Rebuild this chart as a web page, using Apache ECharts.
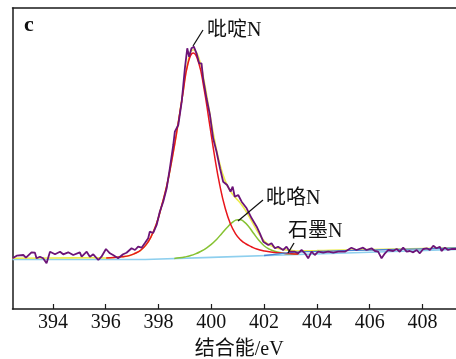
<!DOCTYPE html>
<html><head><meta charset="utf-8">
<script src="https://cdn.jsdelivr.net/npm/echarts@6/dist/echarts.min.js"></script>
<style>html,body{margin:0;padding:0;background:#fff}#c{width:456px;height:359px}</style>
</head><body><div id="c"></div>
<script>
// ---- data (binding energy eV, intensity a.u.) ----
const tickValues = [394, 396, 398, 400, 402, 404, 406, 408];
const xRange = [392.47, 409.27];
const yRange = [0, 301];

const rawSpectrum = [[392.47,50.7],[392.63,53.3],[392.88,54],[392.98,51.3],[393.19,56.7],[393.32,56.3],[393.38,50.7],[393.51,52.3],[393.63,50.7],[393.76,45.7],[393.89,57.3],[394.08,54.7],[394.27,57.3],[394.39,54.7],[394.58,56.7],[394.77,54],[395.02,56.7],[395.09,52.3],[395.28,57.3],[395.40,52.3],[395.53,54.7],[395.72,49],[395.84,52.3],[396.01,60],[396.16,55.7],[396.28,54],[396.47,50.7],[396.66,54.7],[396.79,56.3],[396.98,60.7],[397.11,59],[397.23,62.3],[397.36,61.3],[397.48,65.7],[397.61,70.7],[397.67,77.3],[397.80,76],[397.93,84],[398.05,97.3],[398.18,107.3],[398.31,120.7],[398.43,140.7],[398.56,164],[398.62,177.3],[398.75,184],[398.88,207.3],[398.94,224],[399.00,240.7],[399.09,260.7],[399.16,252.3],[399.25,260.7],[399.34,262.3],[399.44,255.7],[399.54,245.7],[399.63,245.7],[399.69,230.7],[399.82,210.7],[399.95,194],[400.07,170.7],[400.20,157.3],[400.33,140.7],[400.45,127.3],[400.60,124],[400.73,117.3],[400.81,122.3],[400.89,112.3],[401.02,114],[401.15,107.3],[401.34,100.7],[401.53,90.7],[401.72,82.3],[401.84,75.7],[401.97,67.3],[402.16,64],[402.28,65.7],[402.41,60.7],[402.53,62.3],[402.72,59],[402.85,62.3],[402.98,57.3],[403.17,57.3],[403.29,55.7],[403.42,59],[403.55,55.7],[403.67,50.7],[403.80,57.3],[403.92,54],[404.05,57.3],[404.24,56.3],[404.43,57.3],[404.62,56.3],[404.81,57.3],[405.06,57.3],[405.31,61.3],[405.50,59],[405.75,61.3],[405.88,59],[406.07,60.7],[406.20,58],[406.32,57.3],[406.45,50.7],[406.58,55.7],[406.70,59],[406.89,58],[407.02,60],[407.14,57.3],[407.27,61.3],[407.40,57.3],[407.52,58],[407.65,56.7],[407.78,59],[407.90,55.7],[408.03,60],[408.16,60.7],[408.28,59],[408.41,63.3],[408.53,60.7],[408.66,62.3],[408.72,58],[408.85,61.3],[408.97,59],[409.10,60],[409.27,60]];

const fitEnvelope = [[392.47,50.8],[394.0,51.0],[395.5,51.2],[396.02,51.0],[396.32,51.5],[396.62,52.2],[396.92,53.6],[397.12,55.7],[397.32,58.7],[397.52,63.9],[397.72,72.3],[397.92,84.9],[398.12,103.3],[398.32,124],[398.52,150.9],[398.72,181.8],[398.92,215.6],[399.12,247.5],[399.32,259.2],[399.52,251.8],[399.72,229.1],[399.92,199.1],[400.12,169.5],[400.32,145.4],[400.52,128.6],[400.72,118],[400.92,111.2],[401.12,105.3],[401.32,97.5],[401.52,88.4],[401.72,78.9],[402.02,67.6],[402.32,62.5],[402.72,59.5],[403.02,58.6],[403.3,58],[403.6,58.2],[404.0,58.4],[404.5,58.7],[405.5,59.1],[406.5,59.7],[407.5,60.2],[408.5,60.8],[409.27,61.2]];

const pyridinicN = [[396.02,51],[396.32,51.5],[396.62,52.2],[396.92,53.6],[397.12,55.7],[397.32,58.7],[397.52,63.9],[397.72,72.3],[397.92,84.9],[398.12,103.3],[398.32,124],[398.52,150.9],[398.72,181.5],[398.92,214.7],[399.12,245.7],[399.32,256],[399.52,246.5],[399.72,221.1],[399.92,187.7],[400.12,153.7],[400.32,124.2],[400.52,101.5],[400.72,85.5],[400.92,75.2],[401.12,68.9],[401.32,65],[401.52,62.3],[401.72,60],[402.02,58],[402.32,56.8],[402.72,55.8],[403.02,55.3],[403.3,55]];

const pyrrolicN = [[398.6,50.6],[398.8,51.2],[399.0,52.1],[399.2,53.3],[399.4,55.1],[399.6,57.6],[399.8,60.7],[400.0,64.6],[400.2,69.6],[400.4,75.6],[400.6,81.6],[400.8,86.6],[401.0,89.2],[401.1,89.2],[401.2,88.2],[401.4,83.1],[401.6,75.7],[401.8,68.8],[402.0,63.3],[402.2,59.8],[402.4,57.8],[402.6,56.4],[402.8,55.6],[403.0,55.2],[403.3,54.9]];

const graphiticN = [[402.0,53.5],[402.4,54.7],[402.8,55.9],[403.2,56.9],[403.6,57.3],[404.0,57.6],[405.0,58.3],[406.0,58.9],[407.0,59.6],[408.0,60.2],[409.27,61.0]];

const backgroundLine = [[392.47,49.5],[397.5,49.5],[400,51.6],[403,54.2],[406,56.7],[409.27,59.5]];

const labels = { panel: 'c', pyridinic: '吡啶N', pyrrolic: '吡咯N', graphitic: '石墨N', xName: '结合能/eV' };

// ---- chart ----
const FONT = '"Liberation Serif", "Times New Roman", "Noto Sans CJK SC", serif';
const AX = '#1a1a1a';
const chart = echarts.init(document.getElementById('c'), null, { renderer: 'canvas' });

function lineSeries(name, data, color, width, z, smooth) {
  return { name, type: 'line', data, showSymbol: false, smooth: smooth, z,
    lineStyle: { color, width }, emphasis: { disabled: true }, animation: false };
}

chart.setOption({
  animation: false,
  backgroundColor: '#fff',
  grid: { left: 12.5, right: 0, top: 8, bottom: 50, containLabel: false, outerBoundsMode: 'none' },
  xAxis: [{
    type: 'value', min: xRange[0], max: xRange[1], position: 'bottom',
    axisLine: { show: true, onZero: false, lineStyle: { color: AX, width: 1.5 } },
    axisTick: { show: true, inside: true, length: 5, customValues: tickValues, lineStyle: { color: AX, width: 1.2 } },
    axisLabel: { customValues: tickValues, margin: 4, fontFamily: FONT, fontSize: 20, color: '#111' },
    splitLine: { show: false },
    name: labels.xName, nameLocation: 'middle', nameGap: 31,
    nameTextStyle: { fontFamily: FONT, fontSize: 20, color: '#111', padding: [0, 0, 0, 10] }
  }, {
    type: 'value', min: xRange[0], max: xRange[1], position: 'top',
    axisLine: { show: true, onZero: false, lineStyle: { color: AX, width: 1.5 } },
    axisTick: { show: false }, axisLabel: { show: false }, splitLine: { show: false }
  }],
  yAxis: {
    type: 'value', min: yRange[0], max: yRange[1],
    axisLine: { show: true, onZero: false, lineStyle: { color: AX, width: 1.5 } },
    axisTick: { show: false }, axisLabel: { show: false }, splitLine: { show: false }
  },
  series: [
    lineSeries('background', backgroundLine, '#8ecfee', 1.6, 1, false),
    lineSeries('envelope', fitEnvelope, '#ecec4a', 1.6, 2, true),
    lineSeries('pyrrolic', pyrrolicN, '#86c232', 1.5, 3, true),
    lineSeries('pyridinic', pyridinicN, '#e8161c', 1.5, 4, true),
    lineSeries('graphitic', graphiticN, '#4a84d4', 1.3, 5, true),
    lineSeries('raw', rawSpectrum, '#6c1478', 1.8, 6, false)
  ],
  graphic: [
    { type: 'text', z: 100, left: 24, top: 14, style: { text: labels.panel, font: 'bold 22px ' + FONT, fill: '#111' } },
    { type: 'text', z: 100, left: 207, top: 21, style: { text: labels.pyridinic, font: '20px ' + FONT, fill: '#111' } },
    { type: 'line', z: 100, shape: { x1: 203, y1: 30, x2: 193, y2: 46 }, style: { stroke: '#111', lineWidth: 1.2 } },
    { type: 'text', z: 100, left: 266, top: 189, style: { text: labels.pyrrolic, font: '20px ' + FONT, fill: '#111' } },
    { type: 'line', z: 100, shape: { x1: 263, y1: 200, x2: 238, y2: 221 }, style: { stroke: '#111', lineWidth: 1.2 } },
    { type: 'text', z: 100, left: 288, top: 222, style: { text: labels.graphitic, font: '20px ' + FONT, fill: '#111' } },
    { type: 'line', z: 100, shape: { x1: 294, y1: 243, x2: 288, y2: 253 }, style: { stroke: '#111', lineWidth: 1.3 } }
  ]
});
</script>
</body></html>
